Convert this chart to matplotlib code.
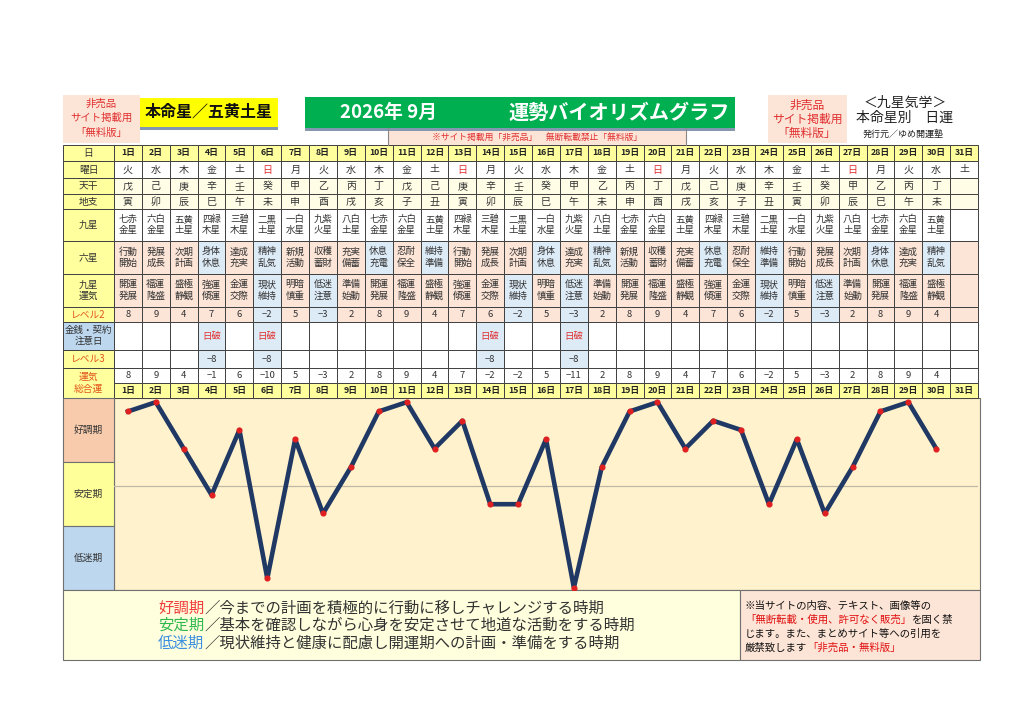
import matplotlib
matplotlib.use("Agg")
import matplotlib.pyplot as plt
import matplotlib.transforms as mtrans
from matplotlib.patches import Rectangle

plt.rcParams['font.family'] = ['Noto Sans CJK JP', 'DejaVu Sans']

# ---------------- data ----------------
day_labels = ["1日", "2日", "3日", "4日", "5日", "6日", "7日", "8日", "9日", "10日",
              "11日", "12日", "13日", "14日", "15日", "16日", "17日", "18日", "19日", "20日",
              "21日", "22日", "23日", "24日", "25日", "26日", "27日", "28日", "29日", "30日", "31日"]
weekdays = ["火", "水", "木", "金", "土", "日", "月", "火", "水", "木", "金", "土", "日", "月", "火",
            "水", "木", "金", "土", "日", "月", "火", "水", "木", "金", "土", "日", "月", "火", "水", "土"]
tenkan = ["戊", "己", "庚", "辛", "壬", "癸", "甲", "乙", "丙", "丁", "戊", "己", "庚", "辛", "壬",
          "癸", "甲", "乙", "丙", "丁", "戊", "己", "庚", "辛", "壬", "癸", "甲", "乙", "丙", "丁", ""]
chishi = ["寅", "卯", "辰", "巳", "午", "未", "申", "酉", "戌", "亥", "子", "丑", "寅", "卯", "辰",
          "巳", "午", "未", "申", "酉", "戌", "亥", "子", "丑", "寅", "卯", "辰", "巳", "午", "未", ""]
kyusei = ["七赤金星", "六白金星", "五黄土星", "四緑木星", "三碧木星", "二黒土星", "一白水星", "九紫火星",
          "八白土星", "七赤金星", "六白金星", "五黄土星", "四緑木星", "三碧木星", "二黒土星", "一白水星",
          "九紫火星", "八白土星", "七赤金星", "六白金星", "五黄土星", "四緑木星", "三碧木星", "二黒土星",
          "一白水星", "九紫火星", "八白土星", "七赤金星", "六白金星", "五黄土星", ""]
rokusei = ["行動開始", "発展成長", "次期計画", "身体休息", "達成充実", "精神乱気", "新規活動", "収穫蓄財",
           "充実備蓄", "休息充電", "忍耐保全", "維持準備", "行動開始", "発展成長", "次期計画", "身体休息",
           "達成充実", "精神乱気", "新規活動", "収穫蓄財", "充実備蓄", "休息充電", "忍耐保全", "維持準備",
           "行動開始", "発展成長", "次期計画", "身体休息", "達成充実", "精神乱気", ""]
unki = ["開運発展", "福運隆盛", "盛極静観", "強運傾運", "金運交際", "現状維持", "明暗慎重", "低迷注意",
        "準備始動", "開運発展", "福運隆盛", "盛極静観", "強運傾運", "金運交際", "現状維持", "明暗慎重",
        "低迷注意", "準備始動", "開運発展", "福運隆盛", "盛極静観", "強運傾運", "金運交際", "現状維持",
        "明暗慎重", "低迷注意", "準備始動", "開運発展", "福運隆盛", "盛極静観", ""]
level2 = [8, 9, 4, 7, 6, -2, 5, -3, 2, 8, 9, 4, 7, 6, -2, 5, -3, 2, 8, 9, 4, 7, 6, -2, 5, -3, 2, 8, 9, 4, None]
caution = ["", "", "", "日破", "", "日破", "", "", "", "", "", "", "", "日破", "", "",
           "日破", "", "", "", "", "", "", "", "", "", "", "", "", "", ""]
level3 = [None, None, None, -8, None, -8, None, None, None, None, None, None, None, -8, None, None,
          -8, None, None, None, None, None, None, None, None, None, None, None, None, None, None]
total = [8, 9, 4, -1, 6, -10, 5, -3, 2, 8, 9, 4, 7, -2, -2, 5, -11, 2, 8, 9, 4, 7, 6, -2, 5, -3, 2, 8, 9, 4]
row_labels = ["日", "曜日", "天干", "地支", "九星", "六星", "九星\n運気", "レベル2", "金銭・契約\n注意日", "レベル3", "運気\n総合運"]
period_labels = ["好調期", "安定期", "低迷期"]

# ---------------- styles ----------------
W, H = 1024, 724
YEL = "#FFFF9E"
PINK = "#FCE4D6"
BLUE = "#DDEBF7"
CREAM = "#FFFDE6"
GRID = "#404040"
TXT = "#333333"
ORANGE = "#E2541A"
RED = "#E03030"
blue_rokusei = {"身体休息", "精神乱気", "休息充電", "維持準備"}
blue_unki = {"現状維持", "低迷注意"}

fig = plt.figure(figsize=(W / 100, H / 100), dpi=100)
ax = fig.add_axes([0, 0, 1, 1])
ax.set_xlim(0, W)
ax.set_ylim(H, 0)
ax.axis("off")
mixed = mtrans.blended_transform_factory(mtrans.IdentityTransform(), ax.transData)


def rect(x0, y0, x1, y1, fc, ec=GRID, lw=0.7, z=1):
    ax.add_patch(Rectangle((x0, y0), x1 - x0, y1 - y0, facecolor=fc, edgecolor=ec, linewidth=lw, zorder=z))


def txt(x, y, s, size=7, color=TXT, weight="normal", ha="center", ls=1.3, z=5):
    return ax.text(x, y, s, fontsize=size, color=color, fontweight=weight, ha=ha, va="center",
                   linespacing=ls, zorder=z)


def run(x, y, parts, size):
    """Draw consecutive coloured text pieces on one line."""
    for s, col in parts:
        t = ax.text(x, y, s, fontsize=size, color=col, ha="left", va="center", transform=mixed)
        fig.canvas.draw()
        x = t.get_window_extent().x1


# ---------------- header ----------------
rect(63, 95, 140, 143, PINK, ec="none")
txt(101, 104, "非売品", 7.5, RED)
txt(101, 118, "サイト掲載用", 7.5, RED)
txt(101, 133, "「無料版」", 7.5, RED)

rect(140, 127, 278, 130, "#8497B0", ec="none")
rect(140, 98, 278, 127, "#FFFF00", ec="none")
txt(209, 112, "本命星／五黄土星", 11.5, "#111111", weight="bold")

rect(305, 128, 735, 131, "#8497B0", ec="none")
rect(305, 97, 735, 128, "#00B050", ec="none")
txt(388, 112, "2026年 9月", 13.5, "white", weight="bold")
txt(619, 112, "運勢バイオリズムグラフ", 14.5, "white", weight="bold")

rect(388, 131, 686, 145, PINK, ec="none")
ax.plot([388, 388], [128, 145], color="#888888", lw=0.8)
ax.plot([686, 686], [128, 145], color="#888888", lw=0.8)
txt(537, 137, "※サイト掲載用「非売品」　無断転載禁止「無料版」", 6.3, RED)

rect(768, 95, 847, 143, PINK, ec="none")
txt(807, 105, "非売品", 8.5, RED)
txt(807, 119, "サイト掲載用", 8.5, RED)
txt(807, 133, "「無料版」", 8.5, RED)

txt(905, 103, "＜九星気学＞", 10, "#222222")
txt(905, 118, "本命星別　日運", 10, "#222222")
txt(903, 134, "発行元／ゆめ開運塾", 6.5, "#222222")

# ---------------- table ----------------
x_label0, x_label1 = 63, 114
x_end = 978
cw = (x_end - x_label1) / 31
rows = [(145, 161), (161, 178), (178, 194), (194, 209), (209, 241), (241, 274),
        (274, 307), (307, 322), (322, 350), (350, 368), (368, 398)]


def cx(i):
    return x_label1 + (i + 0.5) * cw


def cell(i, r, fc, text="", size=7, color=TXT, weight="normal", y0=None, y1=None):
    a, b = rows[r] if y0 is None else (y0, y1)
    rect(x_label1 + i * cw, a, x_label1 + (i + 1) * cw, b, fc)
    if text:
        txt(cx(i), (a + b) / 2, text, size, color, weight)


for r, lab in enumerate(row_labels):
    a, b = rows[r]
    fc = "#BDD7EE" if r == 8 else YEL
    col = ORANGE if r in (7, 9, 10) else TXT
    rect(x_label0, a, x_label1, b, fc)
    txt((x_label0 + x_label1) / 2, (a + b) / 2, lab, 7 if r != 8 else 6.8, col, ls=1.2)


def two(s):
    return s[:2] + "\n" + s[2:] if s else ""


def num(v):
    return "" if v is None else str(v).replace("-", "−")


for i in range(31):
    cell(i, 0, YEL, day_labels[i], 6.3, "#222222", "bold")
    cell(i, 1, "white", weekdays[i], 7.2, RED if weekdays[i] == "日" else TXT)
    cell(i, 2, CREAM, tenkan[i], 7.2)
    cell(i, 3, CREAM, chishi[i], 7.2)
    cell(i, 4, "white", two(kyusei[i]), 6.8)
    cell(i, 5, BLUE if rokusei[i] in blue_rokusei else PINK, two(rokusei[i]), 6.8)
    cell(i, 6, BLUE if unki[i] in blue_unki else PINK, two(unki[i]), 6.8)
    v2 = level2[i]
    cell(i, 7, BLUE if (v2 is not None and v2 < 0) else PINK, num(v2), 6.8)
    cell(i, 8, BLUE if caution[i] else "white", caution[i], 6.8, RED)
    v3 = level3[i]
    cell(i, 9, BLUE if v3 is not None else "white", num(v3), 6.8)
    a, b = rows[10]
    mid = (a + b) / 2 - 0.5
    cell(i, 10, "white", num(total[i]) if i < len(total) else "", 6.8, y0=a, y1=mid)
    cell(i, 10, YEL, day_labels[i], 6.3, "#222222", "bold", y0=mid, y1=b)

# ---------------- graph ----------------
g0, g1 = 398, 590
bands = [(g0, 462, "#F8CBAD"), (462, 526, "#FFFF99"), (526, g1, "#BDD7EE")]
for (a, b, fc), lab in zip(bands, period_labels):
    rect(x_label0, a, x_label1, b, fc, ec="#707070", lw=0.8)
    txt((x_label0 + x_label1) / 2, (a + b) / 2, lab, 7, TXT)
rect(x_label1, g0, 980, g1, "#FFF2CC", ec="#707070", lw=0.8, z=0.5)

gax = fig.add_axes([x_label1 / W, 1 - g1 / H, (x_end - x_label1) / W, (g1 - g0) / H])
gax.patch.set_alpha(0)
gax.set_xlim(0.5, 31.5)
gax.set_ylim(-11.25, 9.45)
gax.axis("off")
xs = list(range(1, len(total) + 1))
gax.axhline(0, color="#BFB8A8", lw=0.9, zorder=1)
gax.plot(xs, total, color="#1F3864", lw=3.3, zorder=2)
gax.plot(xs, total, linestyle="none", marker="o", ms=3.4, color="#E02020", zorder=3)

# ---------------- bottom notes ----------------
rect(63, 590, 740, 660, "#FFFFDD", ec="#707070", lw=0.8)
rect(740, 590, 980, 660, PINK, ec="#707070", lw=0.8)

notes = [("好調期", "#F03C3C", "／今までの計画を積極的に行動に移しチャレンジする時期"),
         ("安定期", "#2EB84E", "／基本を確認しながら心身を安定させて地道な活動をする時期"),
         ("低迷期", "#3C8FE0", "／現状維持と健康に配慮し開運期への計画・準備をする時期")]
for k, (head, col, rest) in enumerate(notes):
    y = 608 + k * 17.5
    run(158, y, [(head, col), (rest, "#333333")], 11.1)

run(745, 606, [("※当サイトの内容、テキスト、画像等の", "#111111")], 7.5)
run(745, 620, [("「無断転載・使用、許可なく販売」", "#E01010"), ("を固く禁", "#111111")], 7.5)
run(745, 634, [("じます。また、まとめサイト等への引用を", "#111111")], 7.5)
run(745, 648, [("厳禁致します", "#111111"), ("「非売品・無料版」", "#E01010")], 7.5)

fig.savefig("out.png", dpi=100)
